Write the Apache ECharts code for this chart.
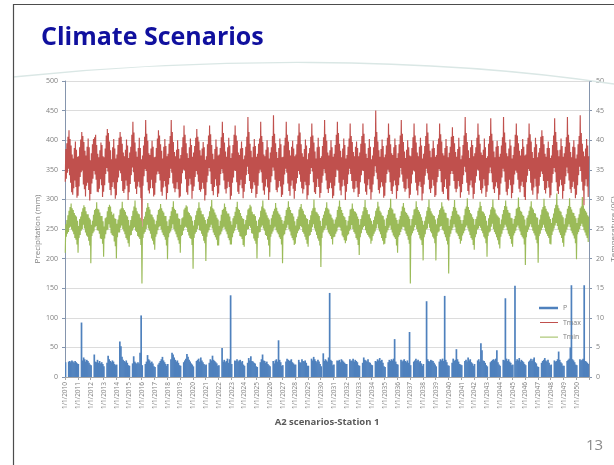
<!DOCTYPE html>
<html>
<head>
<meta charset="utf-8">
<script src="https://cdn.jsdelivr.net/npm/echarts@6/dist/echarts.min.js"></script>
<style>
  html, body { margin: 0; padding: 0; background: #ffffff; }
  #chart { width: 614px; height: 465px; }
</style>
</head>
<body>
<div id="chart"></div>
<script>
// Station 1, A2 scenario, 2010-2050.
const years = [2010, 2011, 2012, 2013, 2014, 2015, 2016, 2017, 2018, 2019,
  2020, 2021, 2022, 2023, 2024, 2025, 2026, 2027, 2028, 2029,
  2030, 2031, 2032, 2033, 2034, 2035, 2036, 2037, 2038, 2039,
  2040, 2041, 2042, 2043, 2044, 2045, 2046, 2047, 2048, 2049, 2050];

// Precipitation P (mm): one value per month, Jan..Dec, one row per year
const precip = [
  25,0,0,26,27,25,28,26,24,27,25,23,
  22,0,0,92,28,33,30,26,29,27,24,21,
  20,0,0,38,26,25,29,24,27,23,25,22,
  18,0,0,24,36,30,27,25,28,26,22,20,
  21,0,0,60,52,34,29,27,25,28,24,20,
  19,0,0,23,35,26,24,22,25,23,41,104,
  20,0,0,22,26,37,30,28,24,26,23,18,
  17,0,0,21,24,27,30,34,28,25,22,19,
  22,0,0,30,41,38,33,29,26,28,24,20,
  19,0,0,25,28,31,39,34,29,26,23,21,
  18,0,0,27,29,31,26,33,28,25,22,20,
  21,0,0,24,30,28,36,29,27,25,23,19,
  20,0,0,49,26,29,25,27,31,24,30,138,
  22,0,0,28,27,30,26,28,29,25,27,21,
  19,0,0,24,32,28,35,27,26,24,23,18,
  17,0,0,25,30,38,28,27,24,26,22,20,
  18,0,0,27,23,28,30,26,62,29,25,19,
  20,0,0,26,31,29,27,28,30,25,23,21,
  21,0,0,29,25,24,30,27,26,28,24,19,
  19,0,0,31,28,34,30,27,25,29,26,22,
  18,0,40,27,30,28,26,33,142,29,27,20,
  21,0,0,28,27,29,25,30,28,26,24,22,
  22,0,0,30,27,28,31,26,29,27,25,20,
  19,0,0,24,33,29,28,26,30,25,24,21,
  20,0,0,27,26,30,28,32,27,29,24,18,
  17,0,0,25,29,27,30,28,31,64,26,22,
  21,0,0,29,26,28,30,27,25,28,24,76,
  20,0,0,26,28,31,27,29,25,27,23,19,
  22,0,0,128,30,27,26,29,28,27,24,21,
  18,0,0,26,30,28,31,27,137,29,25,20,
  19,0,0,24,31,27,29,47,30,26,22,21,
  20,0,0,27,29,26,33,28,30,25,23,19,
  22,0,0,28,30,26,57,45,28,27,24,20,
  18,0,0,25,27,29,30,28,31,45,25,21,
  19,0,0,29,28,133,31,27,30,26,24,20,
  21,0,154,27,30,28,32,26,29,27,25,22,
  20,0,0,26,28,31,27,30,33,25,23,18,
  17,0,0,24,27,29,32,28,26,29,24,20,
  21,0,0,28,26,27,30,43,29,25,23,19,
  19,0,0,27,29,31,50,155,30,28,25,21,
  20,0,0,30,28,29,31,155,27,26,24,22
];

// Tmax (deg C): low then high for each month, Jan..Dec, one row per year
const tmax = [
  33.0,38.5, 33.5,39.5, 34.5,40.6, 35.2,41.7, 34.1,40.2, 32.8,39.1, 31.2,37.6, 30.8,36.9, 31.9,38.7, 33.2,39.8, 32.1,38.4, 30.3,37.2,
  30.6,37.3, 32.2,38.8, 33.8,40.1, 34.6,41.4, 34.9,40.7, 32.5,39.7, 31.7,38.2, 30.5,37.4, 32.3,38.9, 32.8,40.3, 31.6,38.8, 29.8,36.6,
  30.9,37.8, 32.7,39.3, 33.5,40.2, 34.8,40.5, 34.2,40.9, 33.3,39.2, 31.3,37.7, 31.2,37.1, 31.8,38.3, 33.4,39.6, 32.4,39.2, 30.4,37.3,
  31.3,37.1, 32.4,38.6, 34.3,40.8, 35.3,41.9, 34.7,41.2, 32.8,39.8, 31.6,38.3, 30.7,36.8, 32.1,38.8, 32.9,40.2, 31.8,38.6, 30.1,36.9,
  30.7,37.6, 32.9,39.2, 33.7,40.4, 34.9,41.4, 34.4,40.6, 33.1,39.4, 31.4,37.9, 31.1,37.3, 31.7,38.4, 33.2,40.1, 32.3,39.1, 29.9,37.0,
  31.2,37.9, 32.6,38.9, 34.1,40.9, 35.4,43.1, 34.6,41.3, 33.0,39.6, 31.8,38.1, 30.9,37.2, 32.2,38.7, 33.0,40.4, 32.0,38.7, 30.2,36.8,
  24.5,37.4, 32.3,39.1, 33.9,40.6, 35.1,43.4, 34.8,41.1, 32.9,39.9, 31.5,37.8, 31.0,37.5, 31.9,38.6, 33.3,39.9, 31.9,38.9, 30.5,37.1,
  30.8,37.2, 32.8,38.7, 34.2,40.3, 34.7,41.7, 34.3,40.8, 33.2,39.3, 31.3,38.2, 30.6,36.9, 32.0,38.9, 33.1,40.2, 32.2,39.0, 30.0,37.3,
  31.1,37.7, 32.5,39.4, 33.6,40.7, 35.2,43.4, 34.5,41.4, 32.7,39.7, 31.9,38.0, 31.2,37.3, 31.8,38.4, 32.9,40.0, 31.7,38.5, 30.3,36.9,
  30.5,37.5, 32.7,38.8, 34.4,40.5, 35.0,42.5, 34.9,40.9, 33.4,39.5, 31.2,37.8, 30.8,37.0, 32.3,38.8, 33.5,40.3, 32.5,39.2, 30.1,37.2,
  31.4,37.9, 32.2,39.0, 33.8,40.4, 34.8,41.9, 34.2,40.6, 33.0,39.8, 31.6,38.3, 31.3,37.4, 31.7,38.6, 32.8,39.7, 31.8,38.8, 29.8,36.7,
  30.7,37.3, 32.9,39.3, 34.0,40.8, 35.3,42.5, 34.7,41.0, 32.6,39.2, 31.4,37.7, 30.7,36.8, 32.1,38.5, 33.4,40.1, 32.3,38.9, 30.4,37.4,
  31.0,37.6, 32.4,38.7, 34.3,40.5, 35.1,43.1, 34.4,41.2, 33.2,39.6, 31.7,38.1, 31.0,37.2, 31.9,38.8, 33.0,40.4, 32.1,39.1, 30.0,37.0,
  30.6,37.8, 32.8,39.2, 33.7,40.9, 34.9,42.5, 34.8,40.8, 32.9,39.9, 31.3,37.9, 30.9,37.5, 32.4,38.6, 33.3,39.8, 31.9,38.7, 30.2,36.8,
  31.3,37.4, 32.6,38.9, 34.1,40.6, 35.5,43.9, 34.3,41.4, 33.1,39.4, 31.8,38.2, 31.1,37.1, 31.8,38.9, 32.9,40.2, 32.4,39.0, 30.3,37.2,
  30.9,37.7, 32.3,39.4, 34.4,40.3, 35.0,43.1, 34.6,40.7, 32.8,39.7, 31.5,37.6, 30.8,37.3, 32.2,38.4, 33.4,40.0, 32.0,38.8, 29.9,36.9,
  31.2,37.9, 32.9,38.8, 33.9,40.7, 35.4,44.2, 34.9,41.1, 33.3,39.5, 31.6,38.0, 31.2,37.0, 32.0,38.7, 33.1,40.3, 32.2,39.3, 30.4,37.1,
  30.8,37.2, 32.5,39.1, 34.2,40.4, 35.2,43.1, 34.5,40.9, 32.7,39.8, 31.4,38.3, 30.6,37.4, 32.3,38.9, 33.2,39.9, 31.8,38.6, 30.1,37.3,
  31.4,37.6, 32.7,39.3, 33.6,40.8, 34.8,42.8, 34.2,41.3, 33.0,39.3, 31.9,37.8, 31.0,37.2, 31.7,38.5, 33.0,40.1, 32.4,39.1, 30.0,36.8,
  30.7,37.8, 32.4,38.7, 34.3,40.6, 35.3,42.8, 34.7,40.8, 32.9,39.6, 31.2,38.1, 30.9,36.9, 32.1,38.8, 33.5,40.4, 32.1,38.9, 30.3,37.0,
  31.1,37.3, 32.8,39.0, 34.0,40.5, 35.1,43.4, 34.4,41.0, 33.2,39.9, 31.7,37.9, 31.1,37.4, 31.9,38.3, 32.8,40.0, 31.9,38.8, 30.2,37.2,
  30.6,37.7, 32.3,39.2, 33.8,40.9, 35.0,43.1, 34.9,41.2, 32.8,39.4, 31.5,38.2, 30.7,37.1, 32.2,38.6, 33.3,40.3, 32.3,39.2, 29.9,36.9,
  31.3,37.5, 32.6,38.9, 34.2,40.3, 35.2,42.8, 34.3,40.7, 33.1,39.7, 31.8,38.0, 31.2,37.3, 31.8,38.9, 33.1,39.8, 32.0,38.7, 30.4,37.3,
  30.9,37.9, 32.9,39.4, 34.1,40.7, 34.9,42.8, 34.8,41.1, 32.7,39.5, 31.3,37.7, 30.8,37.0, 32.4,38.7, 33.4,40.2, 31.7,38.9, 30.0,36.8,
  31.2,37.4, 32.5,38.8, 33.9,40.6, 35.6,45.0, 34.5,41.4, 33.4,39.8, 31.6,38.3, 31.0,37.2, 32.0,38.5, 32.9,40.1, 32.2,39.0, 30.3,37.1,
  30.6,37.6, 32.8,39.1, 34.3,40.4, 35.0,42.8, 34.6,40.9, 32.9,39.3, 31.4,37.8, 30.9,37.5, 32.2,38.8, 33.2,40.3, 32.4,39.2, 30.1,37.0,
  31.4,37.8, 32.4,39.3, 33.7,40.8, 35.3,43.4, 34.2,41.1, 33.0,39.7, 31.9,38.1, 31.3,37.0, 31.7,38.4, 33.5,40.0, 31.9,38.8, 30.2,37.4,
  30.8,37.3, 32.7,38.7, 34.2,40.5, 34.9,42.8, 34.7,40.8, 32.8,39.6, 31.5,37.9, 30.7,37.3, 32.3,38.9, 33.0,40.4, 32.1,39.1, 29.8,36.9,
  31.0,37.7, 32.5,39.0, 34.0,40.7, 35.2,42.8, 34.4,41.3, 33.3,39.4, 31.7,38.2, 31.1,37.1, 31.9,38.6, 33.3,39.9, 32.3,38.7, 30.4,37.2,
  30.7,37.5, 32.9,39.3, 33.8,40.3, 35.1,42.8, 34.8,41.0, 32.9,39.8, 31.3,37.8, 30.9,37.4, 32.1,38.7, 33.4,40.2, 31.8,39.0, 30.0,37.1,
  29.8,37.9, 32.3,38.9, 34.3,40.6, 34.8,42.2, 34.3,40.7, 33.1,39.5, 31.8,38.0, 31.2,37.2, 31.8,38.5, 33.1,40.4, 32.2,38.9, 30.3,36.8,
  31.2,37.4, 32.6,39.2, 34.1,40.8, 35.5,43.9, 34.6,41.2, 32.8,39.7, 31.4,38.3, 30.8,37.0, 32.4,38.8, 33.2,40.0, 32.0,39.2, 30.1,37.3,
  30.9,37.8, 32.8,38.8, 33.9,40.4, 35.0,42.8, 34.9,40.9, 33.2,39.4, 31.6,37.9, 31.0,37.5, 31.9,38.4, 33.4,40.3, 32.3,38.8, 30.4,37.0,
  31.3,37.3, 32.4,39.4, 34.4,40.7, 35.4,43.7, 34.4,41.1, 32.9,39.9, 31.7,38.1, 31.1,37.1, 32.2,38.9, 32.9,39.9, 31.9,39.0, 29.9,37.2,
  30.8,37.7, 32.7,39.1, 33.7,40.5, 35.2,43.9, 34.7,41.3, 33.0,39.6, 31.3,37.8, 30.7,37.3, 31.8,38.6, 33.3,40.1, 32.4,39.1, 30.2,36.9,
  31.1,37.5, 32.5,38.9, 34.2,40.9, 34.9,42.8, 34.5,40.8, 33.3,39.5, 31.8,38.2, 31.2,37.4, 32.3,38.5, 33.0,40.2, 32.1,38.9, 30.4,37.4,
  29.9,37.6, 32.9,39.3, 34.0,40.4, 35.1,42.8, 34.8,41.0, 32.8,39.8, 31.5,38.0, 30.8,37.0, 32.0,38.8, 33.5,40.4, 32.2,39.3, 30.0,37.1,
  31.0,37.9, 32.3,38.7, 33.8,40.6, 34.7,41.7, 34.3,40.7, 33.1,39.3, 31.6,37.7, 31.0,37.2, 31.9,38.7, 33.1,39.8, 32.0,38.7, 30.3,37.0,
  30.7,37.4, 32.8,39.2, 34.3,40.8, 35.3,43.7, 34.6,41.4, 32.9,39.7, 31.4,38.3, 30.9,37.3, 32.2,38.4, 33.3,40.3, 32.4,39.0, 30.1,37.2,
  31.4,37.8, 32.6,38.9, 33.9,40.5, 35.4,43.9, 34.4,40.9, 33.2,39.6, 31.7,38.0, 31.1,37.1, 32.1,38.9, 33.0,40.0, 31.8,38.8, 30.2,36.9,
  30.8,37.6, 32.4,39.3, 34.1,40.7, 35.5,44.2, 34.8,41.2, 33.0,39.4, 31.5,38.1, 29.0,37.3, 32.3,38.6, 33.4,40.2, 32.2,39.1, 30.4,37.3
];

// Tmin (deg C): low then high for each month, Jan..Dec, one row per year
const tmin = [
  21.0,25.8, 23.7,26.5, 24.2,27.3, 24.5,28.1, 25.2,28.7, 25.4,29.3, 24.9,28.5, 24.6,28.2, 24.1,27.7, 23.5,27.3, 23.2,27.1, 22.4,26.4,
  21.0,25.5, 23.5,26.7, 24.0,27.1, 24.7,27.9, 25.0,28.5, 25.7,29.0, 25.1,28.7, 24.4,28.0, 23.9,27.5, 23.7,27.5, 23.0,26.9, 22.2,26.6,
  19.2,25.7, 23.8,26.4, 24.3,27.4, 24.6,28.2, 25.3,28.4, 25.5,29.5, 24.8,28.4, 24.7,28.3, 24.2,27.8, 23.4,27.2, 23.3,27.2, 22.5,26.3,
  20.3,25.4, 23.4,26.8, 24.1,27.0, 24.8,28.0, 24.9,28.7, 25.8,29.1, 25.2,28.8, 24.3,27.9, 24.0,27.4, 23.8,27.6, 22.9,26.8, 22.1,26.7,
  20.0,25.9, 23.6,26.6, 24.4,27.3, 24.4,28.3, 25.2,28.5, 25.6,29.6, 25.0,28.5, 24.6,28.2, 24.1,27.9, 23.5,27.3, 23.2,27.1, 22.6,26.5,
  22.0,25.6, 23.9,26.5, 24.0,27.2, 24.7,28.1, 25.1,28.8, 25.3,29.8, 24.7,28.6, 24.5,28.0, 23.8,27.6, 23.6,27.5, 23.3,26.9, 22.3,26.4,
  15.8,25.4, 23.5,26.7, 24.2,27.1, 24.5,27.9, 25.0,28.6, 25.7,29.4, 25.1,28.7, 24.7,28.3, 24.2,27.5, 23.4,27.4, 23.0,27.0, 22.4,26.6,
  21.5,25.8, 23.7,26.4, 24.1,27.4, 24.8,28.2, 25.3,28.4, 25.5,29.2, 24.9,28.5, 24.4,28.1, 24.0,27.8, 23.7,27.2, 23.2,27.2, 22.2,26.3,
  19.9,25.5, 23.6,26.6, 24.3,27.2, 24.6,28.0, 25.1,28.7, 25.8,29.7, 25.0,28.4, 24.6,28.2, 24.1,27.6, 23.6,27.6, 23.1,26.8, 22.5,26.7,
  21.0,25.7, 23.8,26.8, 24.0,27.0, 24.7,28.3, 25.2,28.6, 25.4,29.0, 25.2,28.8, 24.5,27.9, 23.9,27.7, 23.5,27.3, 23.3,27.1, 22.3,26.4,
  18.3,25.6, 23.5,26.5, 24.2,27.3, 24.5,28.1, 25.0,28.5, 25.6,29.5, 24.8,28.6, 24.7,28.1, 24.2,27.5, 23.8,27.5, 23.0,27.0, 22.6,26.5,
  19.6,25.9, 23.7,26.7, 24.4,27.1, 24.8,28.0, 25.3,28.8, 25.7,29.9, 25.1,28.5, 24.4,28.3, 24.0,27.8, 23.6,27.4, 23.2,26.9, 22.2,26.6,
  22.2,25.5, 23.9,26.4, 24.1,27.4, 24.6,28.2, 25.1,28.4, 25.4,29.3, 25.0,28.7, 24.6,28.0, 24.1,27.6, 23.5,27.6, 23.1,27.1, 22.4,26.3,
  22.4,25.7, 23.6,26.8, 24.3,27.2, 24.7,27.9, 25.2,28.7, 25.8,29.6, 24.9,28.4, 24.5,28.2, 23.8,27.7, 23.7,27.2, 23.3,26.8, 22.3,26.7,
  22.0,25.8, 23.8,26.5, 24.0,27.3, 24.9,28.3, 25.0,28.5, 25.5,29.1, 25.2,28.8, 24.3,27.9, 24.2,27.5, 23.4,27.5, 23.0,27.2, 22.5,26.4,
  20.0,25.5, 23.5,26.6, 24.4,27.0, 24.5,28.1, 25.3,28.8, 25.6,29.8, 25.1,28.5, 24.7,28.3, 24.0,27.8, 23.8,27.3, 23.2,26.9, 22.2,26.6,
  20.3,25.7, 23.7,26.8, 24.2,27.4, 24.6,28.0, 25.1,28.4, 25.4,29.4, 24.8,28.6, 24.4,28.0, 24.1,27.6, 23.6,27.4, 23.3,27.0, 22.4,26.5,
  19.2,25.9, 23.9,26.4, 24.1,27.2, 24.8,28.2, 25.2,28.6, 25.7,29.7, 25.0,28.7, 24.6,28.2, 23.9,27.7, 23.5,27.6, 23.1,27.1, 22.3,26.3,
  22.5,25.6, 23.6,26.7, 24.3,27.1, 24.7,28.3, 25.0,28.7, 25.5,29.2, 25.3,28.4, 24.5,28.1, 24.2,27.5, 23.7,27.3, 23.2,26.8, 22.5,26.7,
  22.0,25.8, 23.8,26.5, 24.0,27.3, 24.5,28.1, 25.3,28.5, 25.8,30.0, 25.1,28.6, 24.6,27.9, 24.0,27.8, 23.4,27.5, 23.0,27.2, 22.2,26.4,
  18.6,25.5, 23.5,26.8, 24.4,27.4, 24.8,28.0, 25.1,28.6, 25.6,29.5, 24.9,28.5, 24.4,28.3, 24.1,27.6, 23.8,27.4, 23.3,26.9, 22.4,26.6,
  23.6,25.9, 23.7,26.6, 24.2,27.0, 24.6,28.2, 25.2,28.8, 25.4,29.8, 25.2,28.7, 24.7,28.2, 23.9,27.7, 23.6,27.2, 23.1,27.0, 22.6,26.5,
  23.0,25.6, 23.9,26.4, 24.1,27.2, 24.7,28.3, 25.0,28.4, 25.7,29.3, 25.0,28.4, 24.5,28.0, 24.2,27.9, 23.5,27.6, 23.2,27.1, 22.3,26.7,
  20.6,25.7, 23.6,26.7, 24.3,27.3, 24.9,28.0, 25.3,28.7, 25.5,29.9, 24.8,28.6, 24.3,28.2, 24.0,27.5, 23.7,27.5, 23.4,26.8, 22.5,26.4,
  23.0,25.8, 23.8,26.5, 24.2,27.1, 24.6,28.1, 25.1,28.5, 25.8,29.6, 25.1,28.8, 24.6,28.1, 24.1,27.8, 23.5,27.3, 23.0,27.2, 22.4,26.6,
  22.5,25.5, 23.5,26.8, 24.4,27.4, 24.8,28.2, 25.2,28.6, 25.6,30.1, 24.9,28.5, 24.4,28.3, 23.9,27.6, 23.6,27.6, 23.3,26.9, 22.2,26.5,
  21.0,25.9, 23.7,26.6, 24.0,27.2, 24.5,28.0, 25.0,28.8, 25.4,29.4, 25.3,28.6, 24.7,27.9, 24.2,27.7, 23.8,27.4, 23.2,27.1, 22.5,26.7,
  15.8,25.6, 23.9,26.7, 24.3,27.3, 24.7,28.3, 25.3,28.4, 25.7,29.7, 25.0,28.7, 24.5,28.2, 24.0,27.9, 23.4,27.5, 23.1,27.0, 22.3,26.4,
  19.7,25.7, 23.6,26.4, 24.1,27.1, 24.9,28.1, 25.1,28.7, 25.9,30.0, 25.2,28.5, 24.6,28.0, 24.3,27.6, 23.7,27.3, 23.4,27.2, 22.6,26.6,
  19.7,25.8, 23.8,26.8, 24.4,27.4, 24.6,28.2, 25.4,28.5, 25.5,29.5, 24.9,28.8, 24.7,28.3, 24.1,27.8, 23.6,27.7, 23.0,26.9, 22.4,26.8,
  17.5,25.5, 23.7,26.6, 24.2,27.2, 24.8,28.0, 25.2,28.7, 25.8,29.9, 25.3,28.6, 24.4,28.1, 24.2,27.5, 23.8,27.4, 23.3,27.1, 22.5,26.5,
  23.0,25.9, 23.9,26.5, 24.3,27.3, 24.7,28.4, 25.3,28.8, 25.6,30.2, 25.1,28.7, 24.6,28.2, 24.0,27.7, 23.5,27.5, 23.2,27.0, 22.3,26.7,
  21.5,25.7, 23.6,26.7, 24.1,27.1, 24.9,28.1, 25.1,28.6, 25.5,29.6, 25.2,28.9, 24.7,28.0, 24.3,27.9, 23.7,27.6, 23.4,27.2, 22.6,26.4,
  20.3,25.6, 23.8,26.8, 24.4,27.4, 24.6,28.3, 25.4,28.7, 25.9,30.0, 25.0,28.6, 24.5,28.3, 24.1,27.6, 23.6,27.3, 23.1,27.1, 22.4,26.9,
  21.7,25.8, 23.7,26.6, 24.2,27.5, 24.8,28.2, 25.2,28.9, 25.7,29.8, 25.4,28.8, 24.8,28.2, 24.2,27.8, 23.8,27.7, 23.3,26.9, 22.5,26.8,
  22.0,25.9, 23.9,26.7, 24.3,27.2, 24.7,28.4, 25.3,28.6, 25.6,30.3, 25.1,28.7, 24.6,28.1, 24.0,27.9, 23.7,27.4, 23.4,27.2, 22.4,26.6,
  18.9,25.6, 23.6,26.9, 24.5,27.3, 24.9,28.1, 25.4,28.8, 25.8,29.7, 25.3,28.6, 24.7,28.3, 24.3,27.7, 23.9,27.6, 23.2,27.0, 22.6,26.9,
  19.3,25.7, 23.8,26.6, 24.2,27.4, 24.8,28.3, 25.2,28.7, 25.7,30.1, 25.2,28.9, 24.6,28.4, 24.2,28.0, 23.8,27.8, 23.5,27.1, 22.5,26.7,
  22.4,26.0, 24.0,26.9, 24.6,27.6, 25.1,28.5, 25.6,29.1, 26.0,31.0, 25.5,29.0, 24.9,28.5, 24.4,28.1, 24.0,27.9, 23.5,27.3, 22.7,27.0,
  22.0,25.8, 23.9,26.8, 24.4,27.5, 24.9,28.4, 25.4,28.9, 25.8,30.2, 25.3,28.7, 24.7,28.3, 24.3,27.8, 23.9,27.7, 23.4,27.2, 22.6,26.8,
  19.9,26.0, 24.1,26.9, 24.5,27.5, 25.0,28.5, 25.5,28.8, 25.9,30.4, 25.4,29.0, 24.8,28.4, 24.4,28.1, 23.9,27.8, 23.5,27.3, 22.8,27.1
];

// Axis ranges
const precipTicks = { min: 0, max: 500, step: 50 };
const tempTicks = { min: 0, max: 50, step: 5 };

// Monthly categories (m/1/yyyy) for the bars, half-month categories for the temperature lines
const monthCats = [];
const halfMonthCats = [];
years.forEach(function (y) {
  for (let m = 1; m <= 12; m++) {
    monthCats.push(m + '/1/' + y);
    halfMonthCats.push(m + '/1/' + y, m + '/16/' + y);
  }
});

const labelFont = 'Open Sans';
const grayText = '#7f7f7f';
const axisBlue = '#8595ad';
const yearStart = function (index) { return index % 12 === 0; };

const chart = echarts.init(document.getElementById('chart'), null, { renderer: 'canvas' });

chart.setOption({
  animation: false,
  backgroundColor: '#ffffff',
  title: {
    text: 'Climate Scenarios',
    left: 41,
    top: 25,
    padding: 0,
    textStyle: { fontFamily: 'Open Sans', fontWeight: 'bold', fontSize: 25, color: '#10109e' }
  },
  graphic: [
    {
      type: 'rect', silent: true, z: 100,
      shape: { x: 13.5, y: 4.5, width: 640, height: 500 },
      style: { fill: 'none', stroke: '#4d4d4d', lineWidth: 1.2 }
    },
    {
      type: 'bezierCurve', silent: true, z: 1,
      shape: { x1: 13, y1: 77, cpx1: 200, cpy1: 58, cpx2: 420, cpy2: 55, x2: 614, y2: 84 },
      style: { fill: 'none', stroke: '#dae7e5', lineWidth: 1.3 }
    },
    {
      type: 'text', silent: true,
      left: 586, top: 438,
      style: { text: '13', fontFamily: 'Open Sans', fontSize: 15, fill: '#8a8a8a' }
    }
  ],
  legend: [
    {
      data: ['P'], orient: 'vertical', left: 539, top: 304, padding: 0,
      icon: 'rect', itemWidth: 19, itemHeight: 2.5, itemGap: 0,
      selectedMode: false,
      textStyle: { fontFamily: labelFont, fontSize: 7, color: grayText, lineHeight: 8 }
    },
    {
      data: ['Tmax', 'Tmin'], orient: 'vertical', left: 540, top: 318.5, padding: 0,
      icon: 'rect', itemWidth: 18, itemHeight: 1, itemGap: 6.6,
      selectedMode: false,
      textStyle: { fontFamily: labelFont, fontSize: 7, color: grayText, lineHeight: 8 }
    }
  ],
  grid: { left: 65, right: 25, top: 81, bottom: 88, containLabel: false, outerBoundsMode: 'none' },
  xAxis: [
    {
      type: 'category',
      data: monthCats,
      boundaryGap: true,
      name: 'A2 scenarios-Station 1',
      nameLocation: 'middle',
      nameGap: 39,
      nameTextStyle: { fontFamily: 'Open Sans', fontWeight: 'bold', fontSize: 9.5, color: '#595959' },
      axisLine: { show: true, lineStyle: { color: '#a6a6a6', width: 1 } },
      axisTick: { show: true, interval: yearStart, length: 3, lineStyle: { color: '#a6a6a6' } },
      axisLabel: {
        interval: yearStart,
        rotate: 90,
        margin: 5,
        fontFamily: labelFont,
        fontSize: 6.5,
        color: grayText
      },
      splitLine: { show: false }
    },
    {
      type: 'category',
      data: halfMonthCats,
      boundaryGap: true,
      show: false,
      position: 'bottom'
    }
  ],
  yAxis: [
    {
      type: 'value',
      min: precipTicks.min, max: precipTicks.max, interval: precipTicks.step,
      name: 'Precipitation (mm)',
      nameLocation: 'middle',
      nameGap: 23,
      nameMoveOverlap: false,
      nameTextStyle: { fontFamily: labelFont, fontSize: 8, color: grayText },
      axisLine: { show: true, lineStyle: { color: axisBlue, width: 1 } },
      axisTick: { show: true, length: 3, lineStyle: { color: axisBlue } },
      axisLabel: { margin: 7, fontFamily: labelFont, fontSize: 7, color: grayText },
      splitLine: { show: true, lineStyle: { color: '#dcdcdc', width: 1 } }
    },
    {
      type: 'value',
      position: 'right',
      min: tempTicks.min, max: tempTicks.max, interval: tempTicks.step,
      name: 'Temperature (0C)',
      nameLocation: 'middle',
      nameGap: 21,
      nameMoveOverlap: false,
      nameTextStyle: { fontFamily: labelFont, fontSize: 8, color: grayText },
      axisLine: { show: true, lineStyle: { color: axisBlue, width: 1 } },
      axisTick: { show: true, length: 3, lineStyle: { color: axisBlue } },
      axisLabel: { margin: 7, fontFamily: labelFont, fontSize: 7, color: grayText },
      splitLine: { show: false }
    }
  ],
  series: [
    {
      name: 'P',
      type: 'bar',
      xAxisIndex: 0,
      yAxisIndex: 0,
      data: precip,
      barWidth: 1.7,
      itemStyle: { color: '#4f81bd' },
      emphasis: { disabled: true }
    },
    {
      name: 'Tmax',
      type: 'line',
      xAxisIndex: 1,
      yAxisIndex: 1,
      data: tmax,
      showSymbol: false,
      symbol: 'none',
      sampling: null,
      lineStyle: { color: '#c0504d', width: 1.15 },
      itemStyle: { color: '#c0504d' },
      emphasis: { disabled: true }
    },
    {
      name: 'Tmin',
      type: 'line',
      xAxisIndex: 1,
      yAxisIndex: 1,
      data: tmin,
      showSymbol: false,
      symbol: 'none',
      sampling: null,
      lineStyle: { color: '#9bbb59', width: 1.15 },
      itemStyle: { color: '#9bbb59' },
      emphasis: { disabled: true }
    }
  ]
});
</script>
</body>
</html>
